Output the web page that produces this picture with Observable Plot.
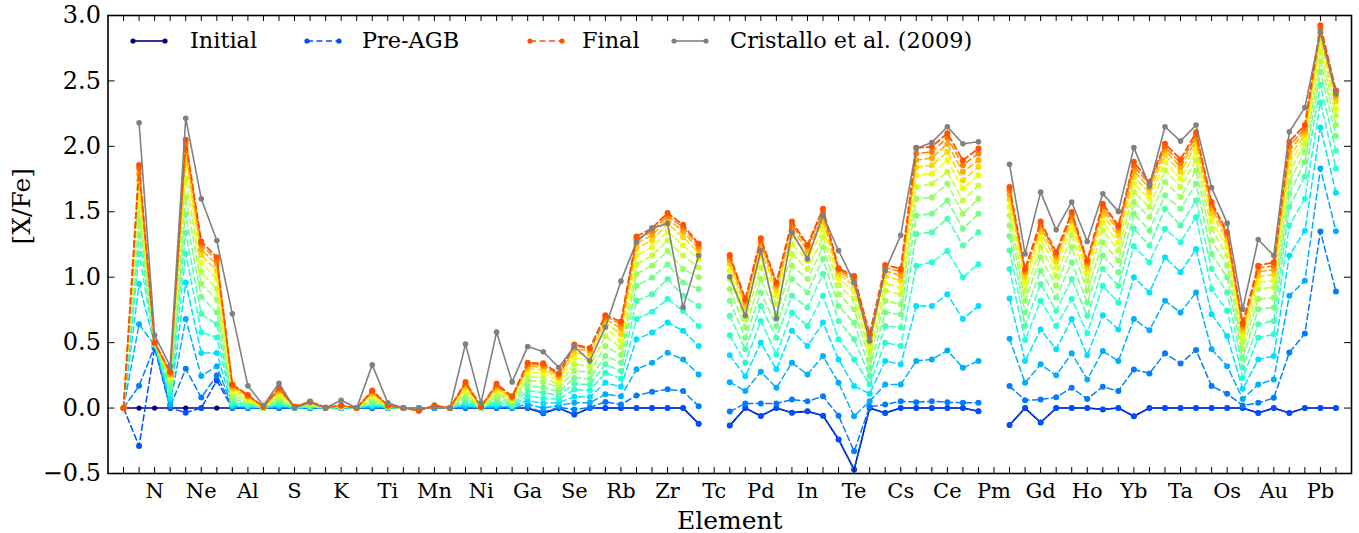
<!DOCTYPE html>
<html><head><meta charset="utf-8">
<script src="https://cdn.jsdelivr.net/npm/d3@7"></script>
<script src="https://cdn.jsdelivr.net/npm/@observablehq/plot@0.6"></script>
<style>
body{margin:0;background:#fff;}
#wrap{position:relative;width:1359px;height:533px;font-family:"DejaVu Serif",serif;background:#fff;}
.item{position:absolute;top:29px;height:24px;display:flex;align-items:center;font-size:22.4px;color:#000;white-space:nowrap;}
.item svg{position:absolute;top:6px;}
.item span{position:absolute;top:-1px;line-height:24px;}
</style></head><body><div id="wrap"></div><script>
const firstZ = 5;
const elements = ["B","C","N","O","F","Ne","Na","Mg","Al","Si","P","S","Cl","Ar","K","Ca","Sc","Ti","V","Cr","Mn","Fe","Co","Ni","Cu","Zn","Ga","Ge","As","Se","Br","Kr","Rb","Sr","Y","Zr","Nb","Mo","Tc","Ru","Rh","Pd","Ag","Cd","In","Sn","Sb","Te","I","Xe","Cs","Ba","La","Ce","Pr","Nd","Pm","Sm","Eu","Gd","Tb","Dy","Ho","Er","Tm","Yb","Lu","Hf","Ta","W","Re","Os","Ir","Pt","Au","Hg","Tl","Pb","Bi"];
const tickLabels = ["N","Ne","Al","S","K","Ti","Mn","Ni","Ga","Se","Rb","Zr","Tc","Pd","In","Te","Cs","Ce","Pm","Gd","Ho","Yb","Ta","Os","Au","Pb"];
const yTicks = [-0.5,0,0.5,1,1.5,2,2.5,3];

const initial = [
0,0,0,0,0,0,0,0,0,0,
0,0,0,0,0,0,0,0,0,0,
0,0,0,0,0,0,0,-0.04,0,-0.05,
0,0,0,0,0,0,0,-0.12,null,-0.134,
0,-0.06,0,-0.035,-0.025,-0.058,-0.24,-0.47,0,-0.037,
0,0,0,0,0,-0.024,null,-0.13,0,-0.11,
0,0,0,-0.01,0,-0.063,0,0,0,0,
0,0,0,-0.037,0,-0.037,0,0,0];

const preAGB = [
0,-0.29,0.46,0,-0.035,0,0.21,0,0,0,
0,0,0,0,0,0,0,0,0,0,
0,0,0,0,0,0,0,-0.04,0,-0.05,
0,0,0,0,0,0,0,-0.12,null,-0.134,
0,-0.06,0,-0.035,-0.025,-0.058,-0.24,-0.47,0,-0.037,
0,0,0,0,0,-0.024,null,-0.13,0,-0.11,
0,0,0,-0.01,0,-0.063,0,0,0,0,
0,0,0,-0.037,0,-0.037,0,0,0];

const pulse01 = [
0,0.17,0.47,0.01,0.30,0.08,0.25,0.005,0.002,0,
0.003,0,0.001,0,0,0,0.003,0,0,0,
0,0,0.004,0,0.004,0.002,0.007,-0.03,0.005,-0.01,
0.005,0.047,0.027,0.096,0.124,0.143,0.13,0.014,null,-0.027,
0.035,0.035,0.035,0.065,0.052,0.09,-0.058,-0.33,0.01,0.027,
0.052,0.045,0.052,0.045,0.04,0.04,null,0.168,0.06,0.065,
0.083,0.155,0.07,0.163,0.13,0.295,0.265,0.418,0.34,0.444,
0.168,0.11,0.02,0.04,0.078,0.424,0.569,1.35,0.89];

const pulse02 = [
0,0.64,0.48,0.03,0.68,0.245,0.32,0.01,0.006,0,
0.009,0,0.003,0,0,0,0.008,0,0,0,
0,0,0.012,0,0.011,0.005,0.028,0.0,0.02,0.04,
0.04,0.106,0.09,0.296,0.347,0.423,0.372,0.257,null,0.198,
0.13,0.278,0.155,0.346,0.257,0.398,0.193,-0.063,0.052,0.18,
0.18,0.36,0.372,0.44,0.308,0.36,null,0.53,0.193,0.334,
0.25,0.418,0.219,0.436,0.36,0.68,0.595,0.82,0.73,0.884,
0.449,0.32,0.07,0.18,0.219,0.858,0.973,1.83,1.352];

const pulse03 = [
0,0.95,0.48,0.07,0.96,0.42,0.42,0.02,0.012,0,
0.019,0,0.006,0,0.002,0,0.016,0.002,0,-0.002,
0.002,0,0.024,0,0.022,0.011,0.058,0.035,0.042,0.086,
0.085,0.193,0.163,0.526,0.577,0.654,0.59,0.474,null,0.403,
0.244,0.50,0.296,0.59,0.474,0.653,0.372,0.168,0.11,0.36,
0.334,0.78,0.78,0.87,0.68,0.78,null,0.838,0.36,0.60,
0.45,0.68,0.403,0.71,0.60,1.0,0.884,1.152,1.037,1.216,
0.717,0.55,0.147,0.372,0.398,1.165,1.356,2.145,1.646];

const pulse04 = [
0,1.18,0.49,0.11,1.18,0.58,0.54,0.035,0.02,0,
0.031,0,0.01,0,0.004,0,0.027,0.004,0,-0.004,
0.004,0,0.04,0,0.037,0.018,0.093,0.075,0.068,0.142,
0.135,0.27,0.226,0.68,0.736,0.833,0.743,0.628,null,0.556,
0.346,0.666,0.41,0.73,0.628,0.858,0.525,0.372,0.18,0.50,
0.475,1.088,1.114,1.20,1.0,1.10,null,1.063,0.52,0.82,
0.628,0.833,0.572,0.935,0.807,1.237,1.114,1.37,1.267,1.459,
0.909,0.743,0.23,0.538,0.564,1.395,1.60,2.335,1.83];

const pulse05 = [
0,1.32,0.49,0.15,1.34,0.72,0.64,0.05,0.03,0,
0.045,0,0.015,0,0.006,0,0.039,0.006,0,-0.006,
0.006,0,0.058,0,0.054,0.026,0.132,0.118,0.097,0.185,
0.18,0.334,0.283,0.82,0.87,0.986,0.858,0.78,null,0.705,
0.449,0.78,0.538,0.858,0.768,1.024,0.666,0.525,0.245,0.628,
0.615,1.33,1.344,1.447,1.242,1.344,null,1.204,0.628,0.948,
0.743,0.986,0.705,1.063,0.935,1.37,1.242,1.523,1.395,1.587,
1.063,0.884,0.308,0.64,0.666,1.536,1.77,2.47,1.966];

const pulse06 = [
0,1.43,0.49,0.18,1.48,0.85,0.73,0.07,0.04,0,
0.06,0.005,0.02,0,0.008,0,0.053,0.008,0,-0.008,
0.008,0,0.078,0.005,0.072,0.035,0.169,0.158,0.125,0.23,
0.225,0.398,0.347,0.935,0.998,1.10,0.96,0.91,null,0.82,
0.538,0.884,0.627,0.986,0.884,1.14,0.78,0.653,0.308,0.73,
0.717,1.47,1.485,1.587,1.37,1.485,null,1.313,0.73,1.05,
0.845,1.114,0.807,1.165,1.037,1.485,1.357,1.626,1.523,1.715,
1.178,0.998,0.377,0.756,0.768,1.638,1.88,2.57,2.08];

const pulse07 = [
0,1.51,0.50,0.20,1.61,0.95,0.83,0.09,0.05,0.005,
0.078,0.005,0.025,0,0.01,0,0.068,0.01,0,-0.01,
0.01,0,0.10,0.005,0.093,0.045,0.21,0.20,0.157,0.283,
0.275,0.475,0.405,1.025,1.09,1.20,1.063,1.0,null,0.91,
0.615,0.986,0.717,1.088,0.986,1.229,0.87,0.755,0.372,0.82,
0.794,1.60,1.61,1.715,1.485,1.60,null,1.395,0.82,1.152,
0.935,1.23,0.896,1.267,1.127,1.575,1.46,1.728,1.613,1.817,
1.28,1.088,0.449,0.833,0.845,1.728,1.96,2.65,2.163];

const pulse08 = [
0,1.60,0.50,0.22,1.75,1.04,0.91,0.11,0.06,0.005,
0.093,0.005,0.03,0,0.012,0,0.081,0.012,0,-0.012,
0.012,0,0.12,0.005,0.111,0.054,0.239,0.232,0.18,0.334,
0.32,0.55,0.462,1.10,1.165,1.28,1.165,1.075,null,0.986,
0.679,1.075,0.794,1.178,1.063,1.306,0.94,0.833,0.424,0.896,
0.87,1.69,1.715,1.805,1.587,1.70,null,1.472,0.896,1.229,
1.01,1.32,0.973,1.357,1.204,1.65,1.536,1.817,1.69,1.894,
1.37,1.165,0.505,0.909,0.922,1.804,2.02,2.72,2.235];

const pulse09 = [
0,1.68,0.50,0.24,1.86,1.11,0.99,0.13,0.07,0.005,
0.109,0.01,0.035,0,0.014,0,0.095,0.014,0,-0.014,
0.014,0,0.14,0.01,0.13,0.063,0.274,0.268,0.207,0.385,
0.365,0.615,0.513,1.165,1.23,1.35,1.242,1.14,null,1.05,
0.73,1.152,0.858,1.255,1.127,1.37,0.99,0.89,0.462,0.955,
0.922,1.78,1.79,1.894,1.677,1.78,null,1.536,0.96,1.293,
1.075,1.383,1.032,1.42,1.267,1.715,1.60,1.882,1.753,1.958,
1.433,1.23,0.551,0.96,0.973,1.868,2.06,2.78,2.29];

const pulse10 = [
0,1.74,0.50,0.25,1.93,1.17,1.05,0.15,0.08,0.01,
0.124,0.01,0.04,0,0.016,0,0.108,0.016,0,-0.016,
0.016,0,0.16,0.01,0.148,0.072,0.298,0.293,0.227,0.423,
0.405,0.654,0.564,1.22,1.28,1.41,1.306,1.186,null,1.10,
0.769,1.21,0.897,1.32,1.178,1.42,1.025,0.935,0.50,1.01,
0.973,1.84,1.855,1.958,1.74,1.843,null,1.594,1.0,1.344,
1.12,1.425,1.068,1.472,1.32,1.766,1.646,1.933,1.804,2.01,
1.485,1.28,0.587,1.006,1.019,1.919,2.09,2.83,2.342];

const pulse11 = [
0,1.79,0.50,0.26,1.98,1.21,1.10,0.165,0.09,0.01,
0.136,0.01,0.044,0,0.018,0,0.119,0.018,0,-0.018,
0.018,0,0.176,0.01,0.163,0.079,0.319,0.315,0.244,0.454,
0.435,0.68,0.608,1.26,1.32,1.447,1.35,1.216,null,1.13,
0.80,1.247,0.93,1.365,1.21,1.46,1.047,0.966,0.53,1.05,
1.01,1.895,1.91,2.02,1.805,1.894,null,1.633,1.032,1.383,
1.153,1.459,1.10,1.51,1.357,1.81,1.682,1.97,1.842,2.047,
1.523,1.313,0.615,1.042,1.057,1.962,2.12,2.87,2.38];

const pulse12 = [
0,1.83,0.50,0.27,2.02,1.25,1.13,0.175,0.095,0.01,
0.147,0.01,0.047,0,0.019,0,0.128,0.019,0,-0.019,
0.019,0,0.19,0.01,0.176,0.085,0.334,0.33,0.256,0.475,
0.452,0.70,0.64,1.29,1.35,1.47,1.38,1.237,null,1.152,
0.82,1.278,0.948,1.40,1.234,1.493,1.06,0.986,0.55,1.075,
1.042,1.945,1.957,2.066,1.856,1.945,null,1.664,1.05,1.408,
1.175,1.48,1.114,1.54,1.38,1.85,1.71,1.996,1.873,2.08,
1.554,1.331,0.635,1.07,1.088,2.0,2.14,2.90,2.41];

const finalAGB = [
0,1.857,0.50,0.28,2.05,1.273,1.153,0.18,0.10,0.01,
0.155,0.01,0.05,0.005,0.02,0,0.135,0.02,0,-0.02,
0.02,0,0.20,0.01,0.185,0.09,0.347,0.342,0.265,0.485,
0.46,0.71,0.661,1.311,1.375,1.49,1.40,1.255,null,1.17,
0.833,1.298,0.96,1.426,1.247,1.524,1.068,1.01,0.564,1.094,
1.063,1.989,1.997,2.10,1.894,1.984,null,1.69,1.063,1.426,
1.19,1.498,1.127,1.562,1.395,1.882,1.728,2.02,1.90,2.107,
1.574,1.344,0.648,1.088,1.114,2.035,2.163,2.925,2.427];

const cristallo = [
null,2.18,0.556,0.32,2.215,1.60,1.28,0.72,0.17,0.02,
0.19,0,0.045,0,0.06,0,0.33,0.04,0,0,
0,0,0.49,0.04,0.58,0.20,0.47,0.43,0.31,0.47,
0.36,0.62,0.97,1.27,1.375,1.41,0.77,1.165,null,1.004,
0.705,1.204,0.684,1.344,1.14,1.472,1.204,0.96,0.513,1.05,
1.32,1.984,2.03,2.15,2.02,2.035,null,1.863,1.178,1.65,
1.362,1.575,1.273,1.638,1.503,1.99,1.697,2.15,2.04,2.163,
1.685,1.413,0.756,1.288,1.165,2.112,2.296,2.874,2.40];

const fanSeries = [preAGB,pulse01,pulse02,pulse03,pulse04,pulse05,pulse06,pulse07,pulse08,pulse09,pulse10,pulse11,pulse12,finalAGB];
const fanColors = ["#004cff","#007dff","#00aeff","#00e0ff","#24ffd4","#4affad","#73ff85","#99ff5e","#c2ff36","#e8ff0d","#ffd600","#ffaa00","#ff7d00","#ff5000"];
const initialColor = "#000080";
const cristalloColor = "#808080";

const W = 1359, H = 533, mL = 107.5, mR = 8, mT = 15, mB = 60;
const plotW = W - mL - mR, plotH = H - mT - mB;
const toRows = arr => arr.map((v, i) => ({Z: i + firstZ, v}));
const allZ = elements.map((_, i) => i + firstZ);
const labelZ = tickLabels.map(s => elements.indexOf(s) + firstZ);

const dashed = "6,3.5";
const seriesMarks = [];
function addSeries(arr, color, dash, sw, r) {
  const rows = toRows(arr);
  seriesMarks.push(Plot.line(rows, {x: "Z", y: "v", stroke: color, strokeWidth: sw, strokeDasharray: dash || undefined}));
  seriesMarks.push(Plot.dot(rows, {x: "Z", y: "v", fill: color, r, stroke: "none"}));
}
addSeries(initial, initialColor, null, 1.6, 2.6);
fanSeries.forEach((arr, k) => addSeries(arr, fanColors[k], dashed, k === fanSeries.length - 1 ? 1.8 : 1.5, 3));
addSeries(cristallo, cristalloColor, null, 1.6, 2.8);

const chart = Plot.plot({
  width: W, height: H,
  marginLeft: mL, marginRight: mR, marginTop: mT, marginBottom: mB,
  x: {type: "linear", domain: [4, 84]},
  y: {domain: [-0.5, 3.0]},
  style: {fontFamily: "DejaVu Serif", background: "#fff", color: "#000", overflow: "visible"},
  marks: [
    ...seriesMarks,
    Plot.tickX(allZ, {x: d => d, insetTop: plotH - 6, stroke: "#000", strokeWidth: 1}),
    Plot.tickX(allZ, {x: d => d, insetBottom: plotH - 6, stroke: "#000", strokeWidth: 1}),
    Plot.tickY(yTicks, {y: d => d, insetRight: plotW - 7, stroke: "#000", strokeWidth: 1}),
    Plot.tickY(yTicks, {y: d => d, insetLeft: plotW - 7, stroke: "#000", strokeWidth: 1}),
    Plot.frame({stroke: "#000", strokeWidth: 1.6}),
    Plot.axisX({ticks: labelZ, tickSize: 0, tickPadding: 10, tickFormat: z => elements[z - firstZ], fontSize: 21, label: null}),
    Plot.axisY({ticks: yTicks, tickSize: 0, tickPadding: 7, tickFormat: d3.format(".1f"), fontSize: 24, label: null}),
    Plot.text(["Element"], {text: d => d, frameAnchor: "bottom", dy: 55, fontSize: 25}),
    Plot.text(["[X/Fe]"], {text: d => d, frameAnchor: "left", dx: -86, rotate: -90, fontSize: 25})
  ]
});
const wrap = document.getElementById("wrap");
wrap.appendChild(chart);

const legendItems = [
  {label: "Initial", color: initialColor, dash: null, x: 129, tx: 190},
  {label: "Pre-AGB", color: fanColors[0], dash: dashed, x: 303, tx: 362},
  {label: "Final", color: fanColors[13], dash: dashed, x: 526, tx: 582},
  {label: "Cristallo et al. (2009)", color: cristalloColor, dash: null, x: 670, tx: 730}
];
legendItems.forEach(it => {
  const d = document.createElement("div");
  d.className = "item";
  d.style.left = it.x + "px";
  d.innerHTML = `<svg width="40" height="12" style="left:0"><line x1="4" y1="6" x2="36" y2="6" stroke="${it.color}" stroke-width="1.6" ${it.dash ? `stroke-dasharray="${it.dash}"` : ""}/><circle cx="4" cy="6" r="2.6" fill="${it.color}"/><circle cx="36" cy="6" r="2.6" fill="${it.color}"/></svg><span style="left:${it.tx - it.x}px">${it.label}</span>`;
  wrap.appendChild(d);
});
</script></body></html>
